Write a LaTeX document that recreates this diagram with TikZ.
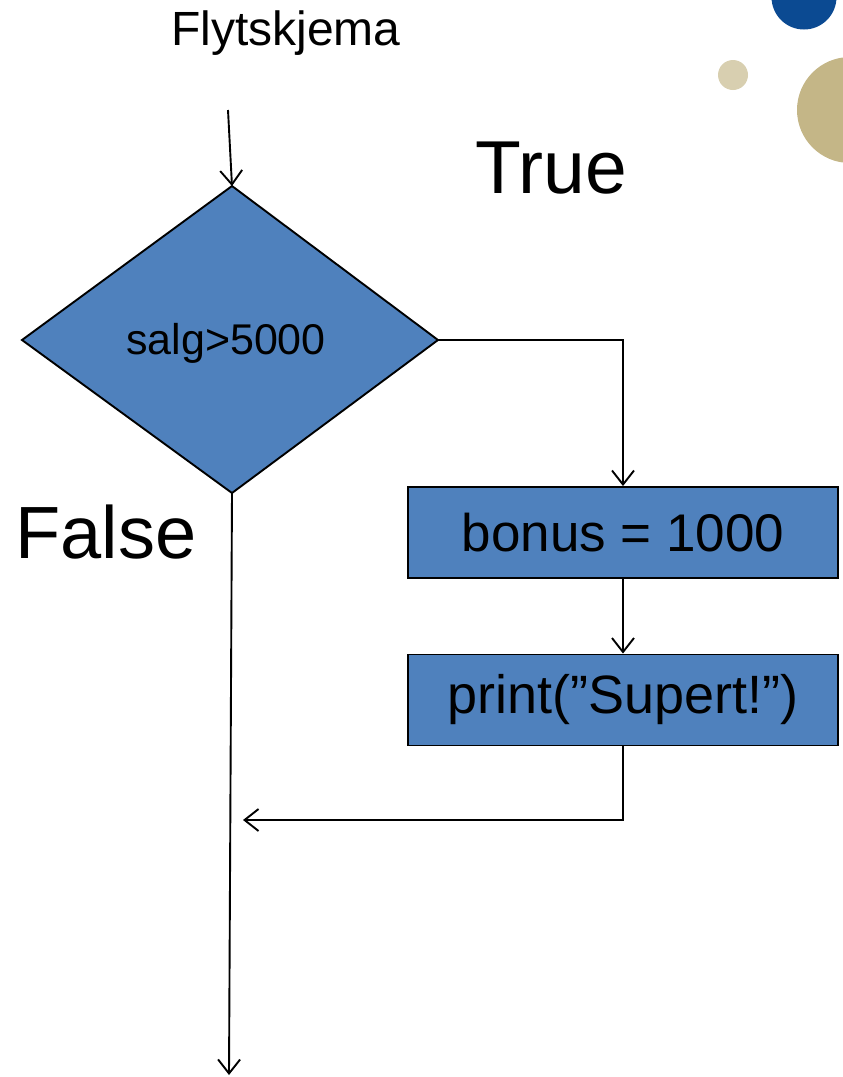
\documentclass[tikz,border=0pt]{standalone}
\usepackage{fontspec}
\setmainfont{Liberation Sans}
\usetikzlibrary{arrows.meta}
\definecolor{boxblue}{HTML}{4F81BD}
\definecolor{dotblue}{HTML}{0B4A92}
\definecolor{dotbeige}{HTML}{D8CFB0}
\definecolor{dottan}{HTML}{C4B687}
\begin{document}
\begin{tikzpicture}[x=1pt,y=-1pt,
  conn/.style={line width=1.9pt},
  arr/.style={conn,-{Straight Barb[length=14pt,width=22pt,line width=1.9pt]}},
  procbox/.style={draw=black,line width=1.9pt,fill=boxblue,minimum width=430pt,minimum height=91pt,inner sep=0pt}]
\useasboundingbox (0,0) rectangle (843,1077);
% decorative dots
\fill[dotblue] (804,-3) circle (32.5);
\fill[dotbeige] (733,75) circle (15);
\fill[dottan] (850,110) circle (53);
% title
\node[font=\fontsize{48}{54}\selectfont] (title) at (286,33) {Flytskjema};
\coordinate (start) at (228,110);
% decision
\path[draw=black,line width=1.9pt,fill=boxblue] (22,340) coordinate (dl) -- (232,186) coordinate (dt) -- (438,340) coordinate (dr) -- (232,493) coordinate (db) -- cycle;
\node[font=\fontsize{43}{48}\selectfont] (cond) at (226,343) {salg>5000};
\node[font=\fontsize{75}{80}\selectfont] (true) at (551,168) {True};
\node[font=\fontsize{74}{80}\selectfont] (false) at (106,532) {False};
% boxes
\node[procbox,font=\fontsize{53}{60}\selectfont] (b1) at (623,532.5) {bonus = 1000};
\node[procbox,font=\fontsize{54}{60}\selectfont] (b2) at (623,700) {print(”Supert!”)};
\coordinate (join) at (623,820);
\coordinate (merge) at (243,820);
\coordinate (endp) at (229,1075);
% connectors
\draw[arr] (start) -- (dt);
\draw[arr] (dr) -| (b1.north);
\draw[arr] (b1.south) -- (b2.north);
\draw[arr] (b2.south) -- (join) -- (merge);
\draw[arr] (db) -- (endp);
\end{tikzpicture}
\end{document}
